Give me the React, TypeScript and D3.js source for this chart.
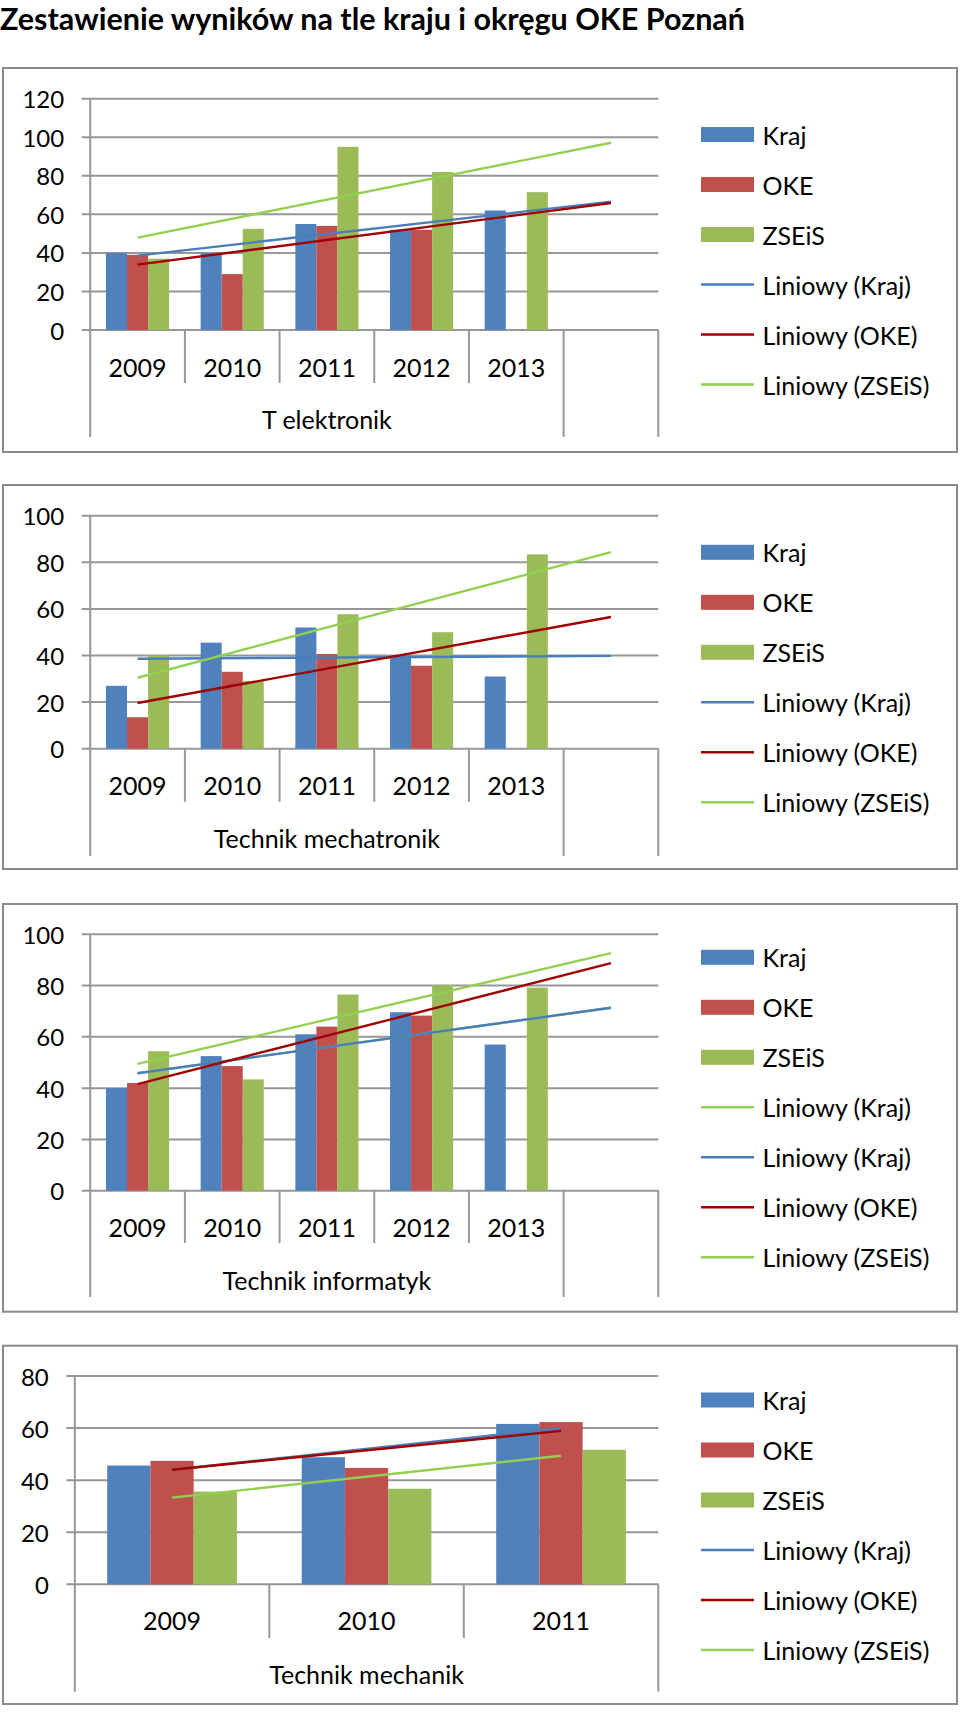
import React from 'react';
import * as d3 from 'd3';

// ---------- data ----------
const SERIES = ['Kraj', 'OKE', 'ZSEiS'];
const BAR_COLORS = ['#4F81BD', '#C0504D', '#9BBB59'];
const TREND_KRAJ = '#4A7EBB';
const TREND_OKE = '#A00000';
const TREND_ZSEIS = '#92D050';

const years5 = ['2009', '2010', '2011', '2012', '2013'];
const years3 = ['2009', '2010', '2011'];

const elektronikKraj = [40, 40, 55, 52, 62];
const elektronikOKE = [39, 29, 54, 52, null];
const elektronikZSEiS = [37, 52.5, 95, 82, 71.5];

const mechatronikKraj = [27, 45.5, 52, 40, 31];
const mechatronikOKE = [13.5, 33, 40.6, 35.6, null];
const mechatronikZSEiS = [40, 29, 57.7, 50, 83.4];

const informatykKraj = [40, 52.5, 61, 69.6, 57];
const informatykOKE = [42, 48.6, 64, 68.3, null];
const informatykZSEiS = [54.4, 43.4, 76.5, 80.2, 79.2];

const mechanikKraj = [45.6, 48.8, 61.6];
const mechanikOKE = [47.4, 44.7, 62.3];
const mechanikZSEiS = [35.6, 36.7, 51.7];

const ticks120 = [0, 20, 40, 60, 80, 100, 120];
const ticks100 = [0, 20, 40, 60, 80, 100];
const ticks80 = [0, 20, 40, 60, 80];

const TITLE = 'Zestawienie wyników na tle kraju i okręgu OKE Poznań';

const FONT = 'Lato, "Open Sans", sans-serif';
const GRID = '#979797';
const FS = 25;

type Trend = { label: string; color: string; values: (number | null)[] };

function regression(vals: (number | null)[]) {
  const pts: [number, number][] = [];
  vals.forEach((v, i) => { if (v !== null && v !== undefined) pts.push([i + 1, v]); });
  const n = pts.length;
  const mx = d3.mean(pts, p => p[0]) as number;
  const my = d3.mean(pts, p => p[1]) as number;
  let sxy = 0, sxx = 0;
  pts.forEach(([x, y]) => { sxy += (x - mx) * (y - my); sxx += (x - mx) * (x - mx); });
  const slope = n > 1 ? sxy / sxx : 0;
  return (x: number) => my + slope * (x - mx);
}

type ChartProps = {
  boxTop: number; boxBottom: number;
  x0: number; yTop: number; yZero: number; yMax: number; ticks: number[];
  years: string[]; slots: number; data: (number | null)[][];
  trends: Trend[]; group: string;
  yearY: number; sepBottom: number; outerBottom: number; groupY: number;
  legendY: number;
};

const X1 = 658.3;
const LEG_X = 701;

function Chart(p: ChartProps) {
  const slotNames = d3.range(p.slots).map(String);
  const xSlot = d3.scaleBand<string>().domain(slotNames).range([p.x0, X1]).padding(0);
  const xSeries = d3.scaleBand<string>().domain(SERIES).range([0, xSlot.bandwidth()])
    .paddingInner(0).paddingOuter(0.75);
  const y = d3.scaleLinear().domain([0, p.yMax]).range([p.yZero, p.yTop]);
  const bw = xSlot.bandwidth();
  const groupEnd = p.x0 + bw * p.years.length;

  const legendItems: { label: string; color: string; kind: 'bar' | 'line' }[] = [
    ...SERIES.map((s, i) => ({ label: s, color: BAR_COLORS[i], kind: 'bar' as const })),
    ...p.trends.map(t => ({ label: t.label, color: t.color, kind: 'line' as const })),
  ];

  const boundaries = d3.range(p.slots + 1).map(i => p.x0 + i * bw);

  return (
    <g>
      <rect x={3} y={p.boxTop} width={954} height={p.boxBottom - p.boxTop}
        fill="#fff" stroke="#8a8a8a" strokeWidth={2} />
      {/* gridlines */}
      {p.ticks.map(t => (
        <line key={'g' + t} x1={p.x0 - 8.5} x2={X1} y1={y(t)} y2={y(t)}
          stroke={GRID} strokeWidth={2} />
      ))}
      {p.ticks.map(t => (
        <text key={'t' + t} x={p.x0 - 26} y={y(t)} textAnchor="end" dominantBaseline="central"
          fontFamily={FONT} fontSize={24} fill="#000">{t}</text>
      ))}
      {/* value axis */}
      <line x1={p.x0} x2={p.x0} y1={p.yTop} y2={p.outerBottom} stroke={GRID} strokeWidth={2} />
      {/* category boundaries */}
      {boundaries.slice(1).map((bx, i) => {
        const outer = Math.abs(bx - groupEnd) < 0.5 || i === boundaries.length - 2;
        return <line key={'b' + i} x1={bx} x2={bx} y1={p.yZero}
          y2={outer ? p.outerBottom : p.sepBottom} stroke={GRID} strokeWidth={2} />;
      })}
      {/* bars */}
      {p.data.map((vals, si) => vals.map((v, ci) => (v === null ? null :
        <rect key={`r${si}-${ci}`} x={(xSlot(String(ci)) as number) + (xSeries(SERIES[si]) as number)}
          y={y(v)} width={xSeries.bandwidth()} height={p.yZero - y(v)} fill={BAR_COLORS[si]} />
      )))}
      {/* trendlines */}
      {p.trends.map((t, i) => {
        const f = regression(t.values);
        const c0 = (xSlot('0') as number) + bw / 2;
        const c1 = (xSlot(String(p.slots - 1)) as number) + bw / 2;
        return <line key={'tr' + i} x1={c0} x2={c1} y1={y(f(1))} y2={y(f(p.slots))}
          stroke={t.color} strokeWidth={2.4} />;
      })}
      {/* year labels */}
      {p.years.map((yr, i) => (
        <text key={'y' + yr} x={(xSlot(String(i)) as number) + bw / 2} y={p.yearY}
          textAnchor="middle" dominantBaseline="central" fontFamily={FONT} fontSize={FS}>{yr}</text>
      ))}
      <text x={(p.x0 + groupEnd) / 2} y={p.groupY} textAnchor="middle" dominantBaseline="central"
        fontFamily={FONT} fontSize={FS}>{p.group}</text>
      {/* legend */}
      {legendItems.map((it, i) => {
        const cy = p.legendY + i * 50;
        return (
          <g key={'l' + i}>
            {it.kind === 'bar'
              ? <rect x={LEG_X} y={cy - 7.5} width={53} height={15} fill={it.color} />
              : <line x1={LEG_X} x2={LEG_X + 53} y1={cy} y2={cy} stroke={it.color} strokeWidth={2.4} />}
            <text x={762.5} y={cy} dominantBaseline="central" fontFamily={FONT} fontSize={FS}>{it.label}</text>
          </g>
        );
      })}
    </g>
  );
}

export default function App() {
  return (
    <svg width={960} height={1712} style={{ position: 'absolute', left: 0, top: 0, background: '#fff' }}>
      <rect width={960} height={1712} fill="#fff" />
      <text x={0} y={30} fontFamily={FONT} fontWeight="bold" fontSize={30.5}>{TITLE}</text>
      <Chart boxTop={68} boxBottom={452} x0={90.2} yTop={98.7} yZero={330} yMax={120} ticks={ticks120}
        years={years5} slots={6} data={[elektronikKraj, elektronikOKE, elektronikZSEiS]}
        trends={[
          { label: 'Liniowy (Kraj)', color: TREND_KRAJ, values: elektronikKraj },
          { label: 'Liniowy (OKE)', color: TREND_OKE, values: elektronikOKE },
          { label: 'Liniowy (ZSEiS)', color: TREND_ZSEIS, values: elektronikZSEiS },
        ]}
        group="T elektronik" yearY={367} sepBottom={383} outerBottom={437} groupY={419} legendY={134.5} />
      <Chart boxTop={485} boxBottom={869} x0={90.2} yTop={515.7} yZero={748.7} yMax={100} ticks={ticks100}
        years={years5} slots={6} data={[mechatronikKraj, mechatronikOKE, mechatronikZSEiS]}
        trends={[
          { label: 'Liniowy (Kraj)', color: TREND_KRAJ, values: mechatronikKraj },
          { label: 'Liniowy (OKE)', color: TREND_OKE, values: mechatronikOKE },
          { label: 'Liniowy (ZSEiS)', color: TREND_ZSEIS, values: mechatronikZSEiS },
        ]}
        group="Technik mechatronik" yearY={785} sepBottom={801.7} outerBottom={856} groupY={838} legendY={552.3} />
      <Chart boxTop={904} boxBottom={1311.7} x0={90.2} yTop={934.3} yZero={1190.7} yMax={100} ticks={ticks100}
        years={years5} slots={6} data={[informatykKraj, informatykOKE, informatykZSEiS]}
        trends={[
          { label: 'Liniowy (Kraj)', color: TREND_ZSEIS, values: informatykKraj },
          { label: 'Liniowy (Kraj)', color: TREND_KRAJ, values: informatykKraj },
          { label: 'Liniowy (OKE)', color: TREND_OKE, values: informatykOKE },
          { label: 'Liniowy (ZSEiS)', color: TREND_ZSEIS, values: informatykZSEiS },
        ]}
        group="Technik informatyk" yearY={1226.7} sepBottom={1243} outerBottom={1297} groupY={1280} legendY={957.3} />
      <Chart boxTop={1345.7} boxBottom={1704} x0={74.8} yTop={1376} yZero={1584.3} yMax={80} ticks={ticks80}
        years={years3} slots={3} data={[mechanikKraj, mechanikOKE, mechanikZSEiS]}
        trends={[
          { label: 'Liniowy (Kraj)', color: TREND_KRAJ, values: mechanikKraj },
          { label: 'Liniowy (OKE)', color: TREND_OKE, values: mechanikOKE },
          { label: 'Liniowy (ZSEiS)', color: TREND_ZSEIS, values: mechanikZSEiS },
        ]}
        group="Technik mechanik" yearY={1620} sepBottom={1638} outerBottom={1691.7} groupY={1674} legendY={1400} />
    </svg>
  );
}
